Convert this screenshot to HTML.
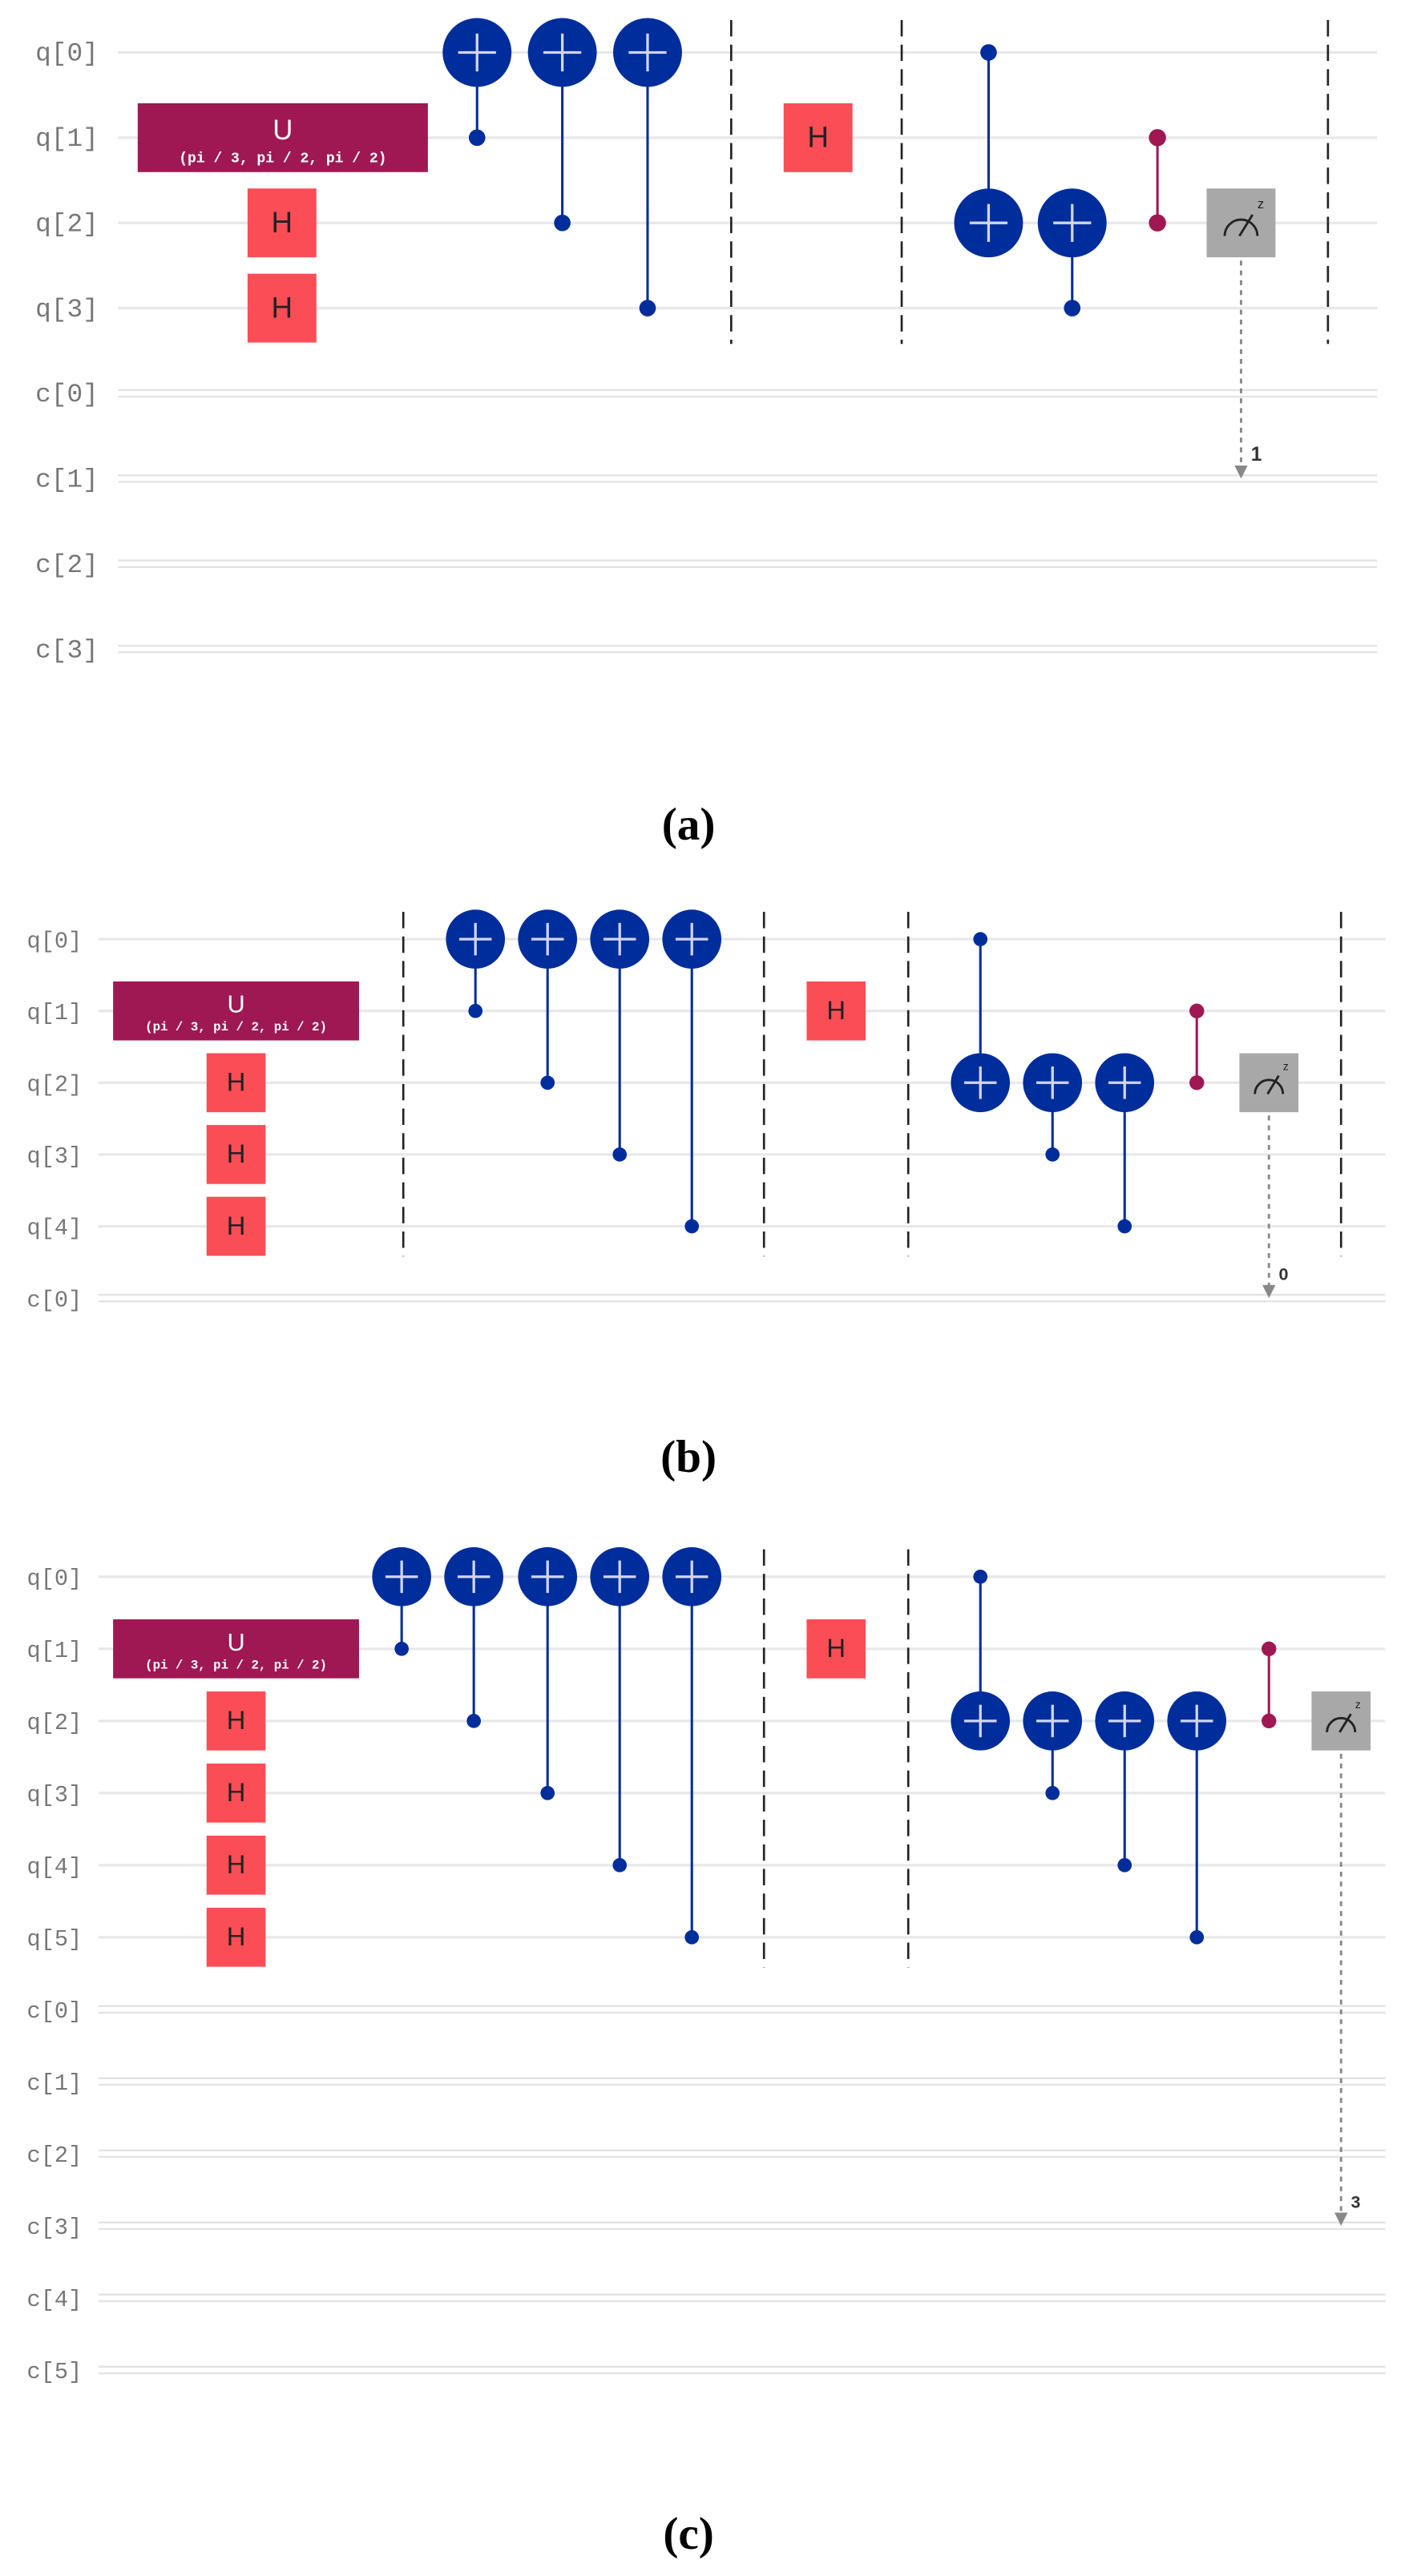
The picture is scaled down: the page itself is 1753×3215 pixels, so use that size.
<!DOCTYPE html>
<html><head><meta charset="utf-8">
<style>
html,body{margin:0;padding:0;background:#fff;}
svg{display:block;}
</style></head>
<body>
<svg id="fig" width="1753" height="3215" viewBox="0 0 857 1571.7" preserveAspectRatio="none" xmlns="http://www.w3.org/2000/svg"></svg>
<script>
// ---- circuit data ----
const panelLabels = ["(a)", "(b)", "(c)"];
const panelQubits = [4, 5, 6];
const panelClbits = [4, 1, 6];
// gates: [type, column, target, control]
const gatesA = [["U",0,1],["H",0,2],["H",0,3],["CX",1,0,1],["CX",2,0,2],["CX",3,0,3],["BAR",4],["H",5,1],["BAR",6],["CX",7,2,0],["CX",8,2,3],["CZ",9,1,2],["M",10,2,1],["BAR",11]];
const gatesB = [["U",0,1],["H",0,2],["H",0,3],["H",0,4],["BAR",1],["CX",2,0,1],["CX",3,0,2],["CX",4,0,3],["CX",5,0,4],["BAR",6],["H",7,1],["BAR",8],["CX",9,2,0],["CX",10,2,3],["CX",11,2,4],["CZ",12,1,2],["M",13,2,0],["BAR",14]];
const gatesC = [["U",0,1],["H",0,2],["H",0,3],["H",0,4],["H",0,5],["CX",1,0,1],["CX",2,0,2],["CX",3,0,3],["CX",4,0,4],["CX",5,0,5],["BAR",6],["H",7,1],["BAR",8],["CX",9,2,0],["CX",10,2,3],["CX",11,2,4],["CX",12,2,5],["CZ",13,1,2],["M",14,2,3]];
const panelGates = [gatesA, gatesB, gatesC];

// ---- layout (per panel) ----
const layout = [
  {top:32, dy:52, x0:72, x1:840, labX:60, fs:16, colX:[172,291,343,395,446,499,550,603,654,706,757,810], r:21, box:42, uX:[84,261], uH:42, lblY:502},
  {top:573, dy:43.8, x0:60, x1:845, labX:50, fs:14, colX:[144,246,290,334,378,422,466,510,554,598,642,686,730,774,818], r:18, box:36, uX:[69,219], uH:36, lblY:888},
  {top:962, dy:44, x0:60, x1:845, labX:50, fs:14, colX:[144,245,289,334,378,422,466,510,554,598,642,686,730,774,818], r:18, box:36, uX:[69,219], uH:36, lblY:1545}
];
const NS="http://www.w3.org/2000/svg";
const svg=document.getElementById('fig');
function mk(tag,attrs,parent,text){const e=document.createElementNS(NS,tag);for(const k in attrs)e.setAttribute(k,attrs[k]);if(text!==undefined)e.textContent=text;(parent||svg).appendChild(e);return e;}

panelGates.forEach((gates,p)=>{
  const L=layout[p];
  const g=mk('g',{});
  
  
  const nq=panelQubits[p], nc=panelClbits[p];
  const yq=i=>L.top+i*L.dy;
  const yc=i=>L.top+(nq+i)*L.dy;
  const cx=c=>L.colX[c];
  for(let i=0;i<nq;i++){
    const ln=mk('line',{x1:L.x0,x2:L.x1,y1:yq(i),y2:yq(i),stroke:'#e8e8e8','stroke-width':1.6},g);
    
    
    const t=mk('text',{x:L.labX,y:yq(i)+5,'text-anchor':'end','font-family':'Liberation Mono, monospace','font-size':L.fs,fill:'#777'},g,'q['+i+']');
    
    
  }
  for(let i=0;i<nc;i++){
    [-2,2].forEach(o=>{const ln=mk('line',{x1:L.x0,x2:L.x1,y1:yc(i)+o,y2:yc(i)+o,stroke:'#e4e4e4','stroke-width':1.2},g);
      
      });
    const t=mk('text',{x:L.labX,y:yc(i)+5,'text-anchor':'end','font-family':'Liberation Mono, monospace','font-size':L.fs,fill:'#777'},g,'c['+i+']');
    
    
  }
  const bh=L.box/2;
  gates.forEach(gt=>{
    const [type,col,tq,cq]=gt; const x=cx(col);
    if(type==='U'){
      const r=mk('rect',{x:L.uX[0],y:yq(tq)-L.uH/2,width:L.uX[1]-L.uX[0],height:L.uH,fill:'#9f1853'},g);
      
      
      const mid=(L.uX[0]+L.uX[1])/2;
      mk('text',{x:mid,y:yq(tq)+1,'text-anchor':'middle','font-family':'Liberation Sans, sans-serif','font-size':L.fs+1,fill:'#fff'},g,'U');
      mk('text',{x:mid,y:yq(tq)+L.uH/2-6,'text-anchor':'middle','font-family':'Liberation Mono, monospace','font-weight':'bold','font-size':L.fs*0.55,fill:'#fff'},g,'(pi / 3, pi / 2, pi / 2)');
    } else if(type==='H'){
      const r=mk('rect',{x:x-bh,y:yq(tq)-bh,width:L.box,height:L.box,fill:'#fa4d56'},g);
      
      
      mk('text',{x:x,y:yq(tq)+L.fs*0.36,'text-anchor':'middle','font-family':'Liberation Sans, sans-serif','font-size':L.fs+2,fill:'#222'},g,'H');
    } else if(type==='CX'){
      const ln=mk('line',{x1:x,x2:x,y1:yq(tq),y2:yq(cq),stroke:'#002d9c','stroke-width':1.5},g);
      
      
      const d=mk('circle',{cx:x,cy:yq(cq),r:L.r*0.24,fill:'#002d9c'},g);
      
      
      const c=mk('circle',{cx:x,cy:yq(tq),r:L.r,fill:'#002d9c'},g);
      
      
      const a=L.r*0.55;
      mk('path',{d:`M${x-a} ${yq(tq)}H${x+a}M${x} ${yq(tq)-a}V${yq(tq)+a}`,stroke:'#d0d6ee','stroke-width':1.6},g);
    } else if(type==='CZ'){
      const ln=mk('line',{x1:x,x2:x,y1:yq(tq),y2:yq(cq),stroke:'#9f1853','stroke-width':1.5},g);
      
      
      [tq,cq].forEach(q=>{const d=mk('circle',{cx:x,cy:yq(q),r:L.r*0.25,fill:'#9f1853'},g);
        
        });
    } else if(type==='M'){
      const y=yq(tq);
      const ln=mk('line',{x1:x,x2:x,y1:y+bh+2,y2:yc(cq)-6,stroke:'#888','stroke-width':1.4,'stroke-dasharray':'3,3'},g);
      
      
      mk('path',{d:`M${x-4} ${yc(cq)-8}L${x+4} ${yc(cq)-8}L${x} ${yc(cq)}Z`,fill:'#888'},g);
      const t=mk('text',{x:x+6,y:yc(cq)-11,'font-family':'Liberation Sans, sans-serif','font-weight':'bold','font-size':L.fs*0.75,fill:'#333'},g,String(cq));
      
      
      const r=mk('rect',{x:x-bh,y:y-bh,width:L.box,height:L.box,fill:'#a8a8a8'},g);
      
      
      const s=L.box/42;
      mk('path',{d:`M${x-10*s} ${y+8*s}A${10*s} ${10*s} 0 0 1 ${x+10*s} ${y+8*s}M${x-1*s} ${y+8*s}L${x+7*s} ${y-5*s}`,stroke:'#222','stroke-width':1.4,fill:'none'},g);
      mk('text',{x:x+10*s,y:y-9*s,'font-family':'Liberation Sans, sans-serif','font-size':8*s,fill:'#222'},g,'z');
    } else if(type==='BAR'){
      const ln=mk('line',{x1:x,x2:x,y1:yq(0)-L.dy*0.38,y2:yq(nq-1)+L.dy*0.42,stroke:'#222','stroke-width':1.3,'stroke-dasharray':'10,5'},g);
      
      
    }
  });
  const pl=mk('text',{x:420,y:L.lblY+10,'text-anchor':'middle','font-family':'Liberation Serif, serif','font-weight':'bold','font-size':28,fill:'#000'},svg,panelLabels[p]);
  
  
});
</script>
</body></html>
